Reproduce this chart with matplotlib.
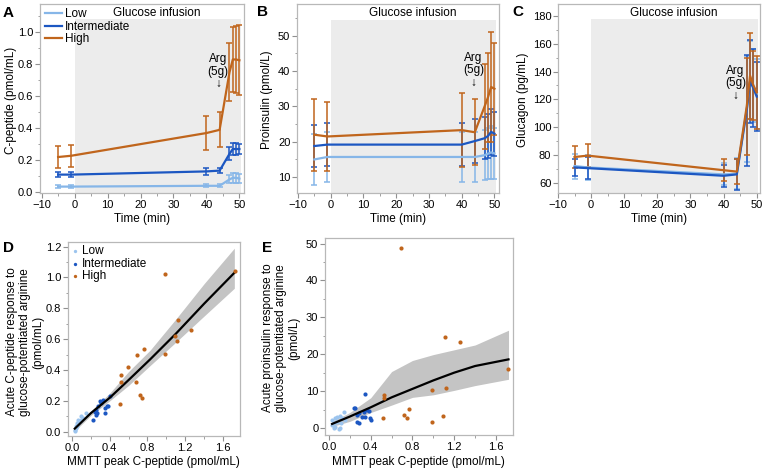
import matplotlib
matplotlib.use("Agg")
import matplotlib.pyplot as plt
from matplotlib.ticker import MultipleLocator, FormatStrFormatter

plt.rcParams['font.family'] = ['Liberation Sans', 'DejaVu Sans']
plt.rcParams['font.size'] = 8

W, H = 767, 471

# sampling times (min); arginine given at 45 min
times = [-5, -1, 40, 44, 47, 48, 49, 50]
groups = ['Low', 'Intermediate', 'High']
colors = {'Low': '#86b6e8', 'Intermediate': '#1c57c2', 'High': '#c0651c'}

# A: C-peptide (pmol/mL)
cpep_mean = {
    'Low':          [0.035, 0.035, 0.04, 0.04, 0.08, 0.09, 0.09, 0.085],
    'Intermediate': [0.11, 0.11, 0.13, 0.135, 0.24, 0.27, 0.27, 0.27],
    'High':         [0.22, 0.228, 0.37, 0.39, 0.75, 0.83, 0.83, 0.825],
}
cpep_err = {
    'Low':          [0.01, 0.01, 0.01, 0.01, 0.025, 0.03, 0.03, 0.03],
    'Intermediate': [0.015, 0.015, 0.02, 0.015, 0.04, 0.035, 0.035, 0.03],
    'High':         [0.07, 0.07, 0.105, 0.11, 0.18, 0.205, 0.21, 0.22],
}

# B: proinsulin (pmol/L)
proins_mean = {
    'Low':          [15.0, 15.7, 15.7, 15.7, 16.2, 16.6, 17.0, 16.7],
    'Intermediate': [18.8, 19.2, 19.2, 20.2, 21.0, 21.6, 22.8, 22.3],
    'High':         [22.0, 21.5, 23.3, 22.7, 30.0, 32.5, 35.5, 35.0],
}
proins_err = {
    'Low':          [7.2, 7.0, 7.2, 7.2, 7.0, 7.2, 7.5, 7.2],
    'Intermediate': [6.0, 6.0, 6.0, 6.2, 6.0, 6.2, 6.5, 6.2],
    'High':         [10.2, 9.8, 10.4, 9.4, 12.0, 12.5, 15.5, 13.0],
}

# C: glucagon (pg/mL)
glucagon_mean = {
    'Low':          [72.0, 71.0, 66.0, 66.5, 113.0, 134.0, 130.0, 124.0],
    'Intermediate': [71.0, 70.5, 65.0, 66.0, 112.0, 133.0, 128.0, 122.0],
    'High':         [78.5, 79.5, 69.0, 68.0, 115.0, 137.0, 130.0, 125.0],
}
glucagon_err = {
    'Low':          [9.0, 9.0, 8.0, 11.0, 38.0, 28.0, 26.0, 25.0],
    'Intermediate': [6.0, 8.0, 8.0, 11.0, 40.0, 30.0, 28.0, 25.0],
    'High':         [8.0, 8.0, 8.0, 9.0, 35.0, 31.0, 25.0, 26.0],
}

# D: acute C-peptide response vs MMTT peak C-peptide
d_low_x = [0.028, 0.035, 0.042, 0.046, 0.057, 0.064, 0.07, 0.081, 0.092, 0.099, 0.117, 0.152, 0.05, 0.075]
d_low_y = [0.002, 0.013, 0.024, 0.034, 0.056, 0.078, 0.06, 0.067, 0.10, 0.078, 0.088, 0.121, 0.04, 0.07]
d_int_x = [0.223, 0.24, 0.251, 0.258, 0.268, 0.276, 0.293, 0.311, 0.328, 0.346, 0.353, 0.374, 0.381, 0.399]
d_int_y = [0.073, 0.13, 0.11, 0.142, 0.121, 0.164, 0.197, 0.186, 0.208, 0.154, 0.121, 0.169, 0.164, 0.229]
d_high_x = [0.512, 0.523, 0.523, 0.597, 0.675, 0.686, 0.717, 0.742, 0.766, 0.989, 0.989, 1.095, 1.116, 1.123, 1.261, 1.724]
d_high_y = [0.18, 0.365, 0.322, 0.42, 0.32, 0.50, 0.24, 0.219, 0.536, 1.023, 0.506, 0.623, 0.586, 0.725, 0.66, 1.04]
d_fit_x = [0.03, 0.2, 0.4, 0.6, 0.83, 1.1, 1.4, 1.72]
d_fit_y = [0.02, 0.12, 0.22, 0.335, 0.47, 0.635, 0.83, 1.03]
d_fit_hi = [0.035, 0.135, 0.25, 0.39, 0.53, 0.73, 0.96, 1.19]
d_fit_lo = [0.005, 0.105, 0.20, 0.30, 0.43, 0.58, 0.75, 0.93]

# E: acute proinsulin response vs MMTT peak C-peptide
e_low_x = [0.029, 0.029, 0.045, 0.045, 0.06, 0.06, 0.077, 0.077, 0.093, 0.105, 0.109, 0.118, 0.125, 0.14, 0.156]
e_low_y = [2.17, 0.8, 1.27, -0.09, 2.6, 0.36, 3.08, 1.72, -0.27, -0.1, 3.26, 1.45, 2.6, 4.4, 2.17]
e_int_x = [0.236, 0.252, 0.268, 0.268, 0.284, 0.29, 0.316, 0.339, 0.348, 0.348, 0.364, 0.38, 0.396, 0.405]
e_int_y = [5.53, 5.53, 3.53, 1.72, 1.27, 4.17, 2.9, 4.44, 9.15, 2.9, 4.89, 4.62, 2.63, 2.17]
e_high_x = [0.517, 0.527, 0.527, 0.69, 0.72, 0.744, 0.764, 0.987, 0.987, 1.089, 1.111, 1.118, 1.255, 1.712]
e_high_y = [2.8, 8.97, 8.06, 48.8, 3.5, 2.7, 5.07, 10.2, 1.63, 3.26, 24.7, 10.95, 23.2, 15.9]
e_fit_x = [0.03, 0.2, 0.4, 0.6, 0.8, 1.0, 1.2, 1.4, 1.72]
e_fit_y = [1.1, 3.1, 5.6, 8.3, 10.6, 12.9, 15.0, 16.8, 18.6]
e_fit_hi = [1.8, 4.2, 8.2, 15.3, 18.3, 19.9, 21.2, 22.5, 26.5]
e_fit_lo = [0.4, 1.8, 4.2, 6.2, 8.3, 9.0, 10.2, 11.5, 13.2]


def add_axes_px(fig, left, top, right, bottom):
    return fig.add_axes([left / W, 1 - bottom / H, (right - left) / W, (bottom - top) / H])


def style_axes(ax):
    for sp in ax.spines.values():
        sp.set_color('#b8b8b8')
        sp.set_linewidth(0.9)
    ax.tick_params(which='both', direction='out', color='#909090', labelsize=8, pad=1.5)
    ax.tick_params(which='major', length=3.3)
    ax.tick_params(which='minor', length=1.8)


def time_panel(ax, means, errs, xlim, ylim, shade_top, title_y, arg_y, major, minor):
    ax.fill_between([0, 50.5], ylim[0], shade_top, color='#ececec', lw=0, zorder=0)
    for g in groups:
        ax.errorbar(times, means[g], yerr=errs[g], fmt='none', ecolor=colors[g],
                    elinewidth=1.1, capsize=2.2, capthick=1.1, zorder=2)
    for g in groups:
        ax.plot(times, means[g], color=colors[g], lw=1.6, label=g, zorder=3)
    ax.set_xlim(*xlim)
    ax.set_ylim(*ylim)
    ax.xaxis.set_major_locator(MultipleLocator(10))
    ax.xaxis.set_minor_locator(MultipleLocator(5))
    ax.yaxis.set_major_locator(MultipleLocator(major))
    ax.yaxis.set_minor_locator(MultipleLocator(minor))
    ax.text(25, title_y, 'Glucose infusion', ha='center', va='center', fontsize=8.5)
    ax.text(43.6, arg_y, 'Arg\n(5g)\n\u2193', ha='center', va='top', fontsize=8.5, linespacing=1.05)
    style_axes(ax)


fig = plt.figure(figsize=(W / 100, H / 100), dpi=100)

# A
axA = add_axes_px(fig, 40, 4, 244, 193)
time_panel(axA, cpep_mean, cpep_err, (-10.5, 51.4), (-0.005, 1.177), 1.083, 1.12, 0.87, 0.2, 0.1)
axA.yaxis.set_major_formatter(FormatStrFormatter('%.1f'))
axA.legend(loc='upper left', bbox_to_anchor=(-0.01, 1.015), frameon=False, fontsize=8.5,
           handlelength=1.4, handletextpad=0.3, labelspacing=0.05, borderaxespad=0.2)

# B
axB = add_axes_px(fig, 297, 4, 499, 193)
time_panel(axB, proins_mean, proins_err, (-10.3, 51.4), (5.5, 59.0), 54.4, 56.4, 45.5, 10, 5)

# C
axC = add_axes_px(fig, 558, 4, 760, 193)
time_panel(axC, glucagon_mean, glucagon_err, (-10.0, 51.0), (52.6, 188.6), 177.6, 182, 145, 20, 10)

fig.text(11 / W, 1 - 100 / H, 'C-peptide (pmol/mL)', rotation=90, ha='center', va='center', fontsize=8.5)
fig.text(267 / W, 1 - 100 / H, 'Proinsulin (pmol/L)', rotation=90, ha='center', va='center', fontsize=8.5)
fig.text(523 / W, 1 - 100 / H, 'Glucagon (pg/mL)', rotation=90, ha='center', va='center', fontsize=8.5)
for cx in [142, 398, 659]:
    fig.text(cx / W, 1 - 219 / H, 'Time (min)', ha='center', va='center', fontsize=8.5)


def scatter_panel(ax, low, inter, high, fit, xlim, ylim):
    ax.fill_between(fit[0], fit[3], fit[2], color='#c4c4c4', lw=0, zorder=1)
    ax.plot(fit[0], fit[1], color='black', lw=1.6, zorder=3)
    ax.scatter(low[0], low[1], s=9, color='#9cc4ee', lw=0, label='Low', zorder=2)
    ax.scatter(inter[0], inter[1], s=9, color=colors['Intermediate'], lw=0, label='Intermediate', zorder=2)
    ax.scatter(high[0], high[1], s=9, color=colors['High'], lw=0, label='High', zorder=4)
    ax.set_xlim(*xlim)
    ax.set_ylim(*ylim)
    ax.xaxis.set_major_locator(MultipleLocator(0.4))
    ax.xaxis.set_minor_locator(MultipleLocator(0.2))
    ax.xaxis.set_major_formatter(FormatStrFormatter('%.1f'))
    style_axes(ax)


# D
axD = add_axes_px(fig, 68, 242, 240, 436)
scatter_panel(axD, (d_low_x, d_low_y), (d_int_x, d_int_y), (d_high_x, d_high_y),
              (d_fit_x, d_fit_y, d_fit_hi, d_fit_lo), (-0.042, 1.78), (-0.028, 1.23))
axD.yaxis.set_major_locator(MultipleLocator(0.2))
axD.yaxis.set_minor_locator(MultipleLocator(0.1))
axD.yaxis.set_major_formatter(FormatStrFormatter('%.1f'))
axD.legend(loc='upper left', bbox_to_anchor=(-0.02, 1.02), frameon=False, fontsize=8.5,
           handlelength=0.6, handletextpad=0.3, labelspacing=0.05, borderaxespad=0.2,
           markerscale=0.8)

# E
axE = add_axes_px(fig, 325, 238, 513, 435)
scatter_panel(axE, (e_low_x, e_low_y), (e_int_x, e_int_y), (e_high_x, e_high_y),
              (e_fit_x, e_fit_y, e_fit_hi, e_fit_lo), (-0.038, 1.763), (-1.9, 51.5))
axE.yaxis.set_major_locator(MultipleLocator(10))
axE.yaxis.set_minor_locator(MultipleLocator(5))

fig.text(25 / W, 1 - 342 / H, 'Acute C-peptide response to\nglucose-potentiated arginine\n(pmol/mL)',
         rotation=90, ha='center', va='center', fontsize=8.5, linespacing=1.15)
fig.text(281 / W, 1 - 338 / H, 'Acute proinsulin response to\nglucose-potentiated arginine\n(pmol/L)',
         rotation=90, ha='center', va='center', fontsize=8.5, linespacing=1.15)
fig.text(153 / W, 1 - 462 / H, 'MMTT peak C-peptide (pmol/mL)', ha='center', va='center', fontsize=8.5)
fig.text(418 / W, 1 - 462 / H, 'MMTT peak C-peptide (pmol/mL)', ha='center', va='center', fontsize=8.5)

# panel letters
for letter, x, y in [('A', 8, 13), ('B', 263, 12), ('C', 518, 12), ('D', 8, 248), ('E', 267, 248)]:
    fig.text(x / W, 1 - y / H, letter, fontsize=11, fontweight='bold', ha='center', va='center')

fig.savefig('out.png', dpi=100)
